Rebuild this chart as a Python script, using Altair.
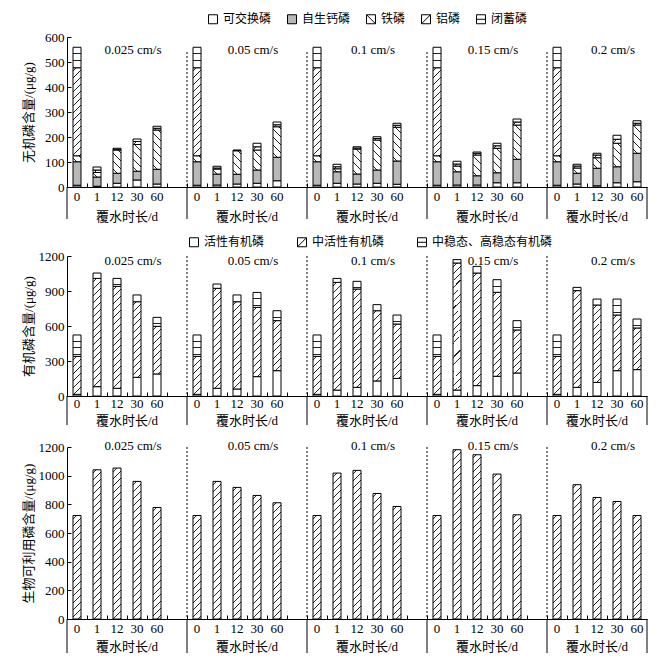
import altair as alt

FONT = "Liberation Serif, Noto Sans CJK SC"
BAR_W = 8
PLOT_W = 580

VKEYS = ["0.025", "0.05", "0.1", "0.15", "0.2"]
VEL_LABELS = ["0.025 cm/s", "0.05 cm/s", "0.1 cm/s", "0.15 cm/s", "0.2 cm/s"]
DAYS = ["0", "1", "12", "30", "60"]

# ---- Row 1: inorganic P (ug/g); rows = velocities, cols = days
INORG_NAMES = ["可交换磷", "自生钙磷", "铁磷", "铝磷", "闭蓄磷"]
ex_P = [[7, 3, 15, 28, 12], [7, 8, 12, 15, 25], [7, 15, 12, 15, 11], [7, 8, 8, 17, 17], [7, 12, 5, 17, 21]]
ca_P = [[94, 37, 40, 35, 59], [94, 44, 39, 53, 94], [94, 46, 40, 53, 93], [94, 53, 37, 40, 94], [94, 43, 70, 64, 114]]
fe_P = [[24, 18, 93, 107, 157], [24, 20, 94, 80, 122], [24, 12, 100, 120, 135], [24, 23, 83, 98, 137], [24, 21, 42, 94, 113]]
al_P = [[352, 10, 3, 12, 7], [352, 4, 1, 13, 8], [352, 8, 4, 6, 8], [352, 8, 7, 10, 12], [352, 8, 11, 16, 7]]
oc_P = [[82, 12, 4, 10, 8], [82, 7, 2, 14, 11], [82, 10, 5, 7, 8], [82, 11, 5, 10, 12], [82, 7, 7, 16, 10]]

# ---- Row 2: organic P
ORG_NAMES = ["活性有机磷", "中活性有机磷", "中稳态、高稳态有机磷"]
lab_OP = [[14, 80, 66, 160, 189], [14, 66, 60, 166, 217], [14, 51, 74, 129, 151], [14, 51, 89, 169, 197], [14, 74, 117, 217, 226]]
mod_OP = [[326, 928, 874, 648, 408], [326, 857, 748, 594, 429], [326, 923, 843, 602, 466], [326, 1089, 965, 720, 369], [326, 829, 663, 477, 357]]
stb_OP = [[183, 46, 68, 58, 77], [183, 37, 58, 128, 85], [183, 34, 66, 52, 77], [183, 29, 57, 108, 80], [183, 28, 51, 137, 77]]

# ---- Row 3: bioavailable P
bio_P = [[722, 1041, 1053, 960, 778], [722, 960, 918, 862, 811], [722, 1018, 1037, 876, 785], [722, 1181, 1146, 1011, 727], [722, 937, 848, 820, 722]]


def slots(i):
    s = [f"{VKEYS[i]}|{d}" for d in DAYS]
    if i < len(VKEYS) - 1:
        s.append(f"{VKEYS[i]}|e")
    return s


XDOM = [c for i in range(len(VKEYS)) for c in slots(i)]

LINE = "#222222"
GRAY = "#b8b8b8"


def _stops(positions, total, half):
    stops = [{"offset": 0, "color": "white"}]
    last = 0.0
    for p in positions:
        a = max(last, min(1.0, (p - half) / total))
        b = max(a, min(1.0, (p + half) / total))
        stops += [{"offset": a, "color": "white"}, {"offset": a, "color": LINE},
                  {"offset": b, "color": LINE}, {"offset": b, "color": "white"}]
        last = b
    stops.append({"offset": 1, "color": "white"})
    return stops


def fill_for(kind, h, w=BAR_W):
    if kind == "white":
        return "white"
    if kind == "gray":
        return GRAY
    if h < 1:
        return "white"
    if kind == "h":
        sp = 6.5
        pos = []
        y = sp
        while y < h - 1:
            pos.append(y)
            y += sp
        return {"gradient": "linear", "x1": 0, "y1": 0, "x2": 0, "y2": 1,
                "stops": _stops(pos, h, 0.5)}
    sp = 7.0 if kind == "/" else 8.0
    L = w + h
    D = (w * w + h * h) / w
    pos = []
    c = sp / 2
    while c < L:
        pos.append(c)
        c += sp
    st = _stops(pos, D, 0.5)
    if kind == "/":
        return {"gradient": "linear", "x1": 0, "y1": 0, "x2": 1, "y2": h / w, "stops": st}
    return {"gradient": "linear", "x1": 0, "y1": 1, "x2": 1, "y2": 1 - h / w, "stops": st}


def stack_records(series, kinds, names, ymax, H):
    recs = []
    for i in range(len(VKEYS)):
        for j, d in enumerate(DAYS):
            base = 0
            for s, kind, name in zip(series, kinds, names):
                v = s[i][j]
                if v <= 0:
                    continue
                h = v * H / ymax
                recs.append({"cat": f"{VKEYS[i]}|{d}", "y0": base, "y1": base + v,
                             "grad": fill_for(kind, h), "part": name})
                base += v
    return recs


SQ = "M-1,-1H1V1H-1Z"
SHAPES = {"white": SQ, "gray": SQ, "\\": SQ + "M-1,-1L1,1", "/": SQ + "M-1,1L1,-1", "h": SQ + "M-1,0H1"}
FILLS = {"white": "white", "gray": GRAY, "\\": "white", "/": "white", "h": "white"}


def row(recs, ymax, ystep, H, ytitle, leg_names, leg_kinds, leg_x, leg_y, leg_pad,
        title_y, dash_top, lab_pad, xlab_dy, drop_len):
    xscale = alt.Scale(domain=XDOM, paddingInner=0, paddingOuter=0)
    yscale = alt.Scale(domain=[0, ymax], nice=False)
    yvals = list(range(0, ymax + 1, ystep))
    xaxis = alt.Axis(title=None, labelAngle=0, ticks=False, bandPosition=0,
                     labelExpr="split(datum.label,'|')[1] == 'e' ? '' : split(datum.label,'|')[1]",
                     labelFont=FONT, labelFontSize=13, labelColor="black", labelPadding=lab_pad,
                     labelOverlap=False,
                     domainColor="black", grid=True, gridColor="black", gridOpacity=1,
                     gridDash=[0, H - 4, 4, 3000])
    yaxis = alt.Axis(title=ytitle, values=yvals, tickCount=len(yvals), format="d", ticks=False,
                     labelFont=FONT, labelFontSize=13, labelColor="black", labelPadding=3,
                     labelOverlap=False, labelFlush=False,
                     domainColor="black", grid=True, gridColor="black", gridOpacity=1,
                     gridDash=[4, 3000], minExtent=30, maxExtent=30, titlePadding=2,
                     titleFont=FONT, titleFontSize=13, titleFontWeight="normal", titleColor="black")

    def X(bp=None):
        if bp is None:
            return alt.X("cat:N", scale=xscale, axis=xaxis)
        return alt.X("cat:N", scale=xscale, axis=xaxis, bandPosition=bp)

    data = alt.Data(values=recs)
    bars = alt.Chart(data).mark_bar(size=BAR_W, stroke="black", strokeWidth=1).encode(
        x=X(),
        y=alt.Y("y0:Q", scale=yscale, axis=yaxis),
        y2="y1:Q",
        fill=alt.Fill("grad:N", scale=None),
    )
    legend = alt.Legend(title=None, orient="none", legendX=leg_x, legendY=leg_y, direction="horizontal",
                        columns=max(1, len(leg_names)), columnPadding=leg_pad, labelFont=FONT, labelFontSize=12,
                        labelColor="black", labelOffset=4, symbolSize=81, symbolStrokeColor="black",
                        symbolStrokeWidth=1, symbolOpacity=1, padding=0)
    leg = alt.Chart(data).transform_filter("false").mark_point(
        filled=True, stroke="black", strokeWidth=1, opacity=1).encode(
        x=alt.value(0),
        y=alt.value(0),
        fill=alt.Fill("part:N", scale=alt.Scale(domain=leg_names, range=[FILLS[k] for k in leg_kinds]),
                      legend=legend),
        shape=alt.Shape("part:N", scale=alt.Scale(domain=leg_names, range=[SHAPES[k] for k in leg_kinds]),
                        legend=legend),
    )
    dash = alt.Chart(alt.Data(values=[{"cat": f"{k}|0"} for k in VKEYS[1:]])).mark_rule(
        color="black", strokeWidth=1, strokeDash=[2, 2]).encode(
        x=X(0), y=alt.value(dash_top), y2=alt.value(H))
    drops = alt.Chart(alt.Data(values=[{"cat": f"{k}|0"} for k in VKEYS])).mark_rule(
        color="black", strokeWidth=1).encode(
        x=X(0), y=alt.value(H), y2=alt.value(H + drop_len))
    drop_end = alt.Chart(alt.Data(values=[{"cat": f"{VKEYS[-1]}|60"}])).mark_rule(
        color="black", strokeWidth=1).encode(
        x=X(1), y=alt.value(H), y2=alt.value(H + drop_len))
    ftitles = alt.Chart(alt.Data(values=[{"cat": f"{k}|30", "t": t} for k, t in zip(VKEYS, VEL_LABELS)])).mark_text(
        font=FONT, fontSize=13, color="black", baseline="middle", dx=6).encode(
        x=X(0), y=alt.value(title_y), text="t:N")
    xl1 = alt.Chart(alt.Data(values=[{"cat": f"{k}|30", "t": "覆水时长/d"} for k in VKEYS[:-1]])).mark_text(
        font=FONT, fontSize=13, color="black", baseline="middle").encode(
        x=X(0), y=alt.value(H + xlab_dy), text="t:N")
    xl2 = alt.Chart(alt.Data(values=[{"cat": f"{VKEYS[-1]}|12", "t": "覆水时长/d"}])).mark_text(
        font=FONT, fontSize=13, color="black", baseline="middle").encode(
        x=X(0.5), y=alt.value(H + xlab_dy), text="t:N")
    layers = [bars, dash, drops, drop_end, ftitles, xl1, xl2]
    if leg_names:
        layers.append(leg)
    return alt.layer(*layers).properties(width=PLOT_W, height=H)


H1, H2, H3 = 150, 140, 172
r1 = row(stack_records([ex_P, ca_P, fe_P, al_P, oc_P], ["white", "gray", "\\", "/", "h"], INORG_NAMES, 600, H1),
         600, 100, H1, "无机磷含量/(μg/g)", INORG_NAMES, ["white", "gray", "\\", "/", "h"],
         140, -24, 13, 13, 15, 3, 30, 32)
r2 = row(stack_records([lab_OP, mod_OP, stb_OP], ["white", "/", "h"], ORG_NAMES, 1200, H2),
         1200, 300, H2, "有机磷含量/(μg/g)", ORG_NAMES, ["white", "/", "h"],
         121, -20, 30, 5, 0, 1, 25, 29)
r3 = row(stack_records([bio_P], ["/"], ["生物可利用磷"], 1200, H3),
         1200, 200, H3, "生物可利用磷含量/(μg/g)", [], [],
         0, 0, 0, -1, 0, 3, 28, 34)

chart = alt.vconcat(r1, r2, r3, spacing=12).resolve_scale(
    x="independent", y="independent", fill="independent", shape="independent"
).resolve_legend(fill="independent", shape="independent").properties(
    padding={"left": 14, "top": 5, "right": 5, "bottom": 5}, background="white"
).configure_view(stroke=None)

chart.save("out.html", embed_options={"renderer": "svg", "actions": False})
